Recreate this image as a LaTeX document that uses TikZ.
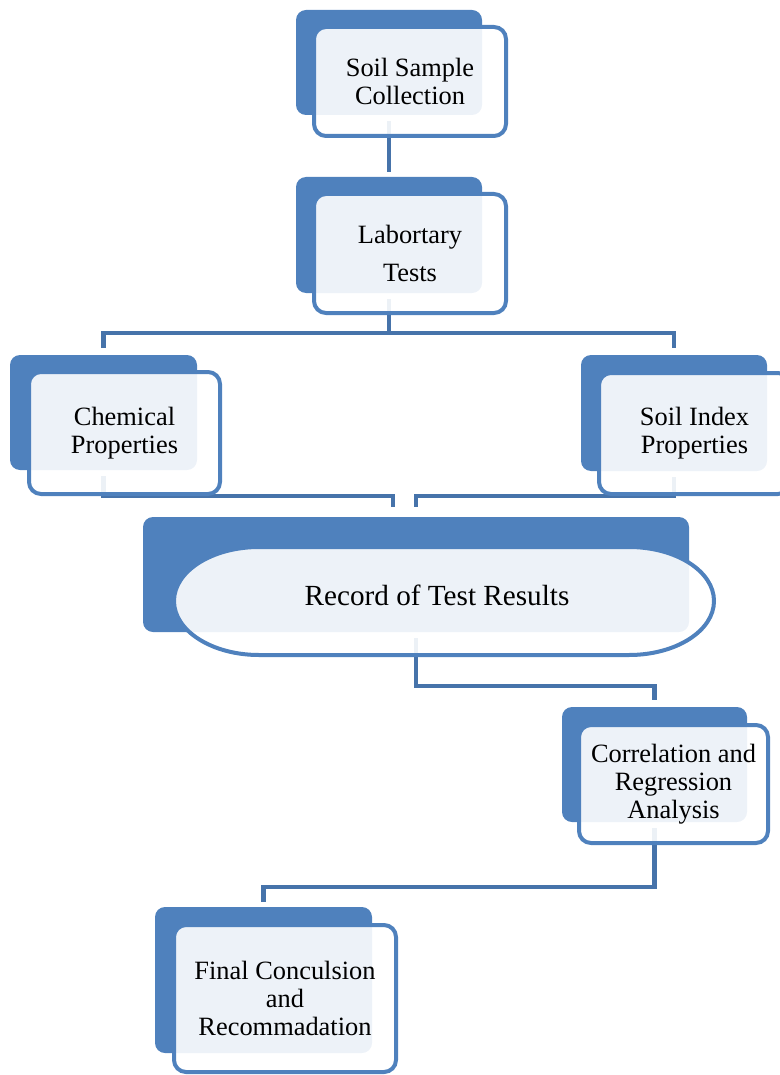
\documentclass[tikz,border=0pt]{standalone}
\usepackage{fontspec}
\setmainfont{Liberation Serif}
\usetikzlibrary{backgrounds}
\definecolor{boxblue}{RGB}{79,129,189}
\definecolor{linkblue}{RGB}{70,115,170}
\begin{document}
\begin{tikzpicture}[x=0.5pt, y=-0.5pt,
        back/.style = {rectangle, rounded corners=5pt, fill=boxblue, inner sep=0pt},
        front/.style = {rectangle, rounded corners=6pt, draw=boxblue, line width=2pt, fill=white, fill opacity=0.9, text opacity=1, align=center, inner sep=0pt, font=\fontsize{13.2pt}{14pt}\selectfont},
        link/.style = {draw=linkblue, line width=2.4pt}]
    \useasboundingbox (0,0) rectangle (780,1075);

    % soil sample collection
    \node[back, minimum width=93pt, minimum height=52.5pt] (soilB) at (389,62.5) {};
    \node[front, minimum width=96pt, minimum height=54.5pt] (soilF) at (410,81.5) {Soil Sample\\Collection};

    % laboratory tests
    \node[back, minimum width=93pt, minimum height=58pt] (labB) at (389,235) {};
    \node[front, minimum width=96pt, minimum height=59.5pt] (labF) at (410,253.5) {Labortary\\[5pt]Tests};

    % chemical / index properties
    \node[back, minimum width=93.5pt, minimum height=57.5pt] (chemB) at (103.5,412.5) {};
    \node[front, minimum width=95.5pt, minimum height=61pt] (chemF) at (124.5,433) {Chemical\\Properties};
    \node[back, minimum width=93pt, minimum height=58pt] (idxB) at (674,413) {};
    \node[front, minimum width=95.5pt, minimum height=60.5pt] (idxF) at (694.5,433.5) {Soil Index\\Properties};

    % record of results
    \node[back, minimum width=273pt, minimum height=57.5pt] (recB) at (416,574.5) {};
    \draw[draw=boxblue, line width=2pt, fill=white, fill opacity=0.9]
        (259,547) -- (629,547) arc[start angle=-90, end angle=90, x radius=85, y radius=54]
        -- (259,655) arc[start angle=90, end angle=270, x radius=85, y radius=54] -- cycle;
    \node[font=\fontsize{14.6pt}{16pt}\selectfont] (rec) at (437,595) {Record of Test Results};

    % correlation, conclusion
    \node[back, minimum width=92.5pt, minimum height=57.5pt] (corrB) at (654.5,764.5) {};
    \node[front, minimum width=94.5pt, minimum height=59pt] (corrF) at (673.5,784) {Correlation and\\Regression\\Analysis};
    \node[back, minimum width=108.5pt, minimum height=73pt] (finB) at (263.5,980) {};
    \node[front, minimum width=111pt, minimum height=73.5pt] (finF) at (285,998.5) {Final Conculsion\\and\\Recommadation};

    \coordinate (labJ) at (389,333);
    \coordinate (recIn) at (393,517);
    \coordinate (recJ) at (416,686);
    \coordinate (corrJ) at (654.5,887);

    \begin{scope}[on background layer]
        \draw[link, shorten <=3pt, shorten >=2.5pt] (soilB.south) -- (labB.north);
        \draw[link, shorten <=3pt, shorten >=3.5pt] (labB.south) -- (labJ) -| (chemB.north);
        \draw[link, shorten >=3.5pt] (labJ) -| (idxB.north);
        \draw[link, shorten <=3pt, shorten >=5pt] (chemB.south) |- (recIn |- chemF.south) -- (recIn);
        \draw[link, shorten <=3pt, shorten >=5pt] (idxB.south) |- (recB.north |- idxF.south) -- (recB.north);
        \draw[link, shorten <=3pt, shorten >=3.5pt] (recB.south) -- (recJ) -| (corrB.north);
        \draw[link, shorten <=3pt, shorten >=2.5pt] (corrB.south) -- (corrJ) -| (finB.north);
    \end{scope}
\end{tikzpicture}
\end{document}
